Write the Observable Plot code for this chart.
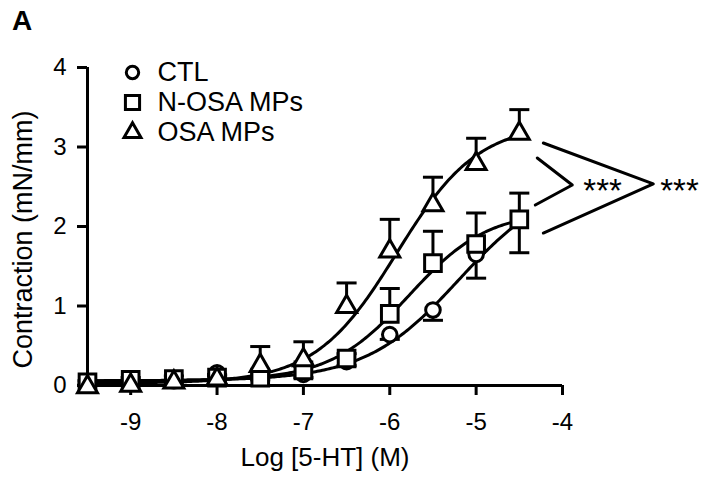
<!DOCTYPE html>
<html>
<head>
<meta charset="utf-8">
<script src="https://cdn.jsdelivr.net/npm/d3@7"></script>
<script src="https://cdn.jsdelivr.net/npm/@observablehq/plot@0.6"></script>
<style>
  html, body { margin: 0; padding: 0; background: white; }
  #wrap { position: relative; width: 704px; height: 481px; }
  #panel { position: absolute; left: 12px; top: 5px; font: bold 28px "Liberation Sans", Arial, sans-serif; color: black; }
  svg [aria-label^="x-axis"] line, svg [aria-label^="y-axis"] line,
  svg [aria-label^="x-axis"] path, svg [aria-label^="y-axis"] path,
  svg g.tick line { stroke-width: 3px; }
</style>
</head>
<body>
<div id="wrap"><div id="panel">A</div></div>
<script>
// ---- data ----
const concentrations = [-9.5, -9, -8.5, -8, -7.5, -7, -6.5, -6, -5.5, -5, -4.5];
const seriesNames = ["CTL", "N-OSA MPs", "OSA MPs"];
const ctlMean  = [0.04, 0.05, 0.06, 0.16, 0.10, 0.14, 0.30, 0.64, 0.95, 1.65, 2.08];
const ctlSem   = [0.02, 0.02, 0.02, 0.04, 0.03, 0.04, 0.05, 0.06, 0.13, 0.30, 0.41];
const nosaMean = [0.04, 0.07, 0.08, 0.10, 0.10, 0.19, 0.34, 0.90, 1.54, 1.78, 2.09];
const nosaSem  = [0.02, 0.03, 0.04, 0.04, 0.04, 0.05, 0.06, 0.32, 0.40, 0.39, 0.33];
const osaMean  = [-0.02, 0.00, 0.04, 0.08, 0.25, 0.32, 0.99, 1.69, 2.27, 2.79, 3.17];
const osaSem   = [0.00, 0.02, 0.03, 0.05, 0.24, 0.23, 0.30, 0.40, 0.35, 0.32, 0.30];
// sigmoid fit parameters (bottom, top, logEC50, Hill) per series
const fitBottom  = [0.06, 0.06, 0.03];
const fitTop     = [2.60, 2.20, 3.30];
const fitLogEC50 = [-5.20, -5.78, -5.92];
const fitHill    = [0.80, 0.95, 0.92];
const xTicks = [-9, -8, -7, -6, -5, -4];
const yTicks = [0, 1, 2, 3, 4];
const xTitle = "Log [5-HT] (M)";
const yTitle = "Contraction (mN/mm)";
// significance brackets (data coordinates) and labels
const sigLabels = ["***", "***"];
const bracketInnerX = [-4.292, -3.887, -4.315];
const bracketInnerY = [2.862, 2.522, 2.270];
const bracketOuterX = [-4.222, -2.949, -4.222];
const bracketOuterY = [3.050, 2.535, 1.918];
const sigLabelX = [-3.759, -2.868];
const sigLabelY = [2.547, 2.547];

// ---- build tables ----
const means = [ctlMean, nosaMean, osaMean];
const sems = [ctlSem, nosaSem, osaSem];
const errDir = [-1, 1, 1]; // CTL bars drawn downward, others upward
const symbols = ["circle", "square", "triangle"];
const symR = [7.3, 9.4, 7.4];

const points = seriesNames.map((name, s) => concentrations.map((c, i) => ({
  name, x: c, y: means[s][i], end: means[s][i] + errDir[s] * sems[s][i]
})));

const curveX = d3.range(-9.5, -4.5 + 1e-9, 0.02);
const curves = seriesNames.map((name, s) => curveX.map(x => ({
  name, x,
  y: fitBottom[s] + (fitTop[s] - fitBottom[s]) / (1 + Math.pow(10, (fitLogEC50[s] - x) * fitHill[s]))
})));

const brackets = [
  bracketInnerX.map((x, i) => ({x, y: bracketInnerY[i]})),
  bracketOuterX.map((x, i) => ({x, y: bracketOuterY[i]}))
];
const sigText = sigLabels.map((t, i) => ({t, x: sigLabelX[i], y: sigLabelY[i]}));

const capSymbol = { draw(ctx, size) { const w = Math.sqrt(size) / 2; ctx.moveTo(-w, 0); ctx.lineTo(w, 0); } };

const marks = [
  Plot.ruleY([0], {stroke: "black", strokeWidth: 3}),
  Plot.ruleX([-9.5], {stroke: "black", strokeWidth: 3})
];
curves.forEach(c => marks.push(Plot.line(c, {x: "x", y: "y", stroke: "black", strokeWidth: 3, curve: "linear"})));
points.forEach(p => {
  const withErr = p.filter(d => Math.abs(d.end - d.y) > 0.001);
  marks.push(Plot.ruleX(withErr, {x: "x", y1: "y", y2: "end", stroke: "black", strokeWidth: 3}));
  marks.push(Plot.dot(withErr, {x: "x", y: "end", symbol: capSymbol, r: 11.3, stroke: "black", strokeWidth: 3, fill: "none"}));
});
points.forEach((p, s) => marks.push(Plot.dot(p, {x: "x", y: "y", symbol: symbols[s], r: symR[s], fill: "white", stroke: "black", strokeWidth: 3})));
brackets.forEach(b => marks.push(Plot.line(b, {x: "x", y: "y", stroke: "black", strokeWidth: 3})));
marks.push(Plot.text(sigText, {x: "x", y: "y", text: "t", textAnchor: "start", dy: 8, fontSize: 33}));
// axis titles
marks.push(Plot.text([xTitle], {frameAnchor: "bottom", dy: 72, text: d => d, textAnchor: "middle", lineAnchor: "middle", fontSize: 26}));
marks.push(Plot.text([yTitle], {frameAnchor: "left", dx: -64, dy: 13, rotate: -90, text: d => d, textAnchor: "middle", lineAnchor: "middle", fontSize: 27}));
// legend
const legendDy = [5, 35, 65];
seriesNames.forEach((name, s) => {
  marks.push(Plot.dot([name], {frameAnchor: "top-left", dx: 45, dy: legendDy[s], symbol: symbols[s], r: symR[s] * 0.85, fill: "white", stroke: "black", strokeWidth: 3}));
  marks.push(Plot.text([name], {frameAnchor: "top-left", dx: 70, dy: legendDy[s], text: d => d, textAnchor: "start", lineAnchor: "middle", fontSize: 27}));
});

const chart = Plot.plot({
  width: 704, height: 481,
  marginLeft: 87, marginRight: 142, marginTop: 67, marginBottom: 96,
  style: {fontFamily: "'Liberation Sans', Arial, sans-serif", fontSize: "24px", background: "white", color: "black", overflow: "visible"},
  x: {domain: [-9.5, -4], ticks: xTicks, tickSize: 10, tickPadding: 17, tickFormat: d => String(d), label: null},
  y: {domain: [0, 4], ticks: yTicks, tickSize: 10, tickPadding: 11, tickFormat: d => String(d), label: null},
  marks
});
document.getElementById("wrap").appendChild(chart);
</script>
</body>
</html>
